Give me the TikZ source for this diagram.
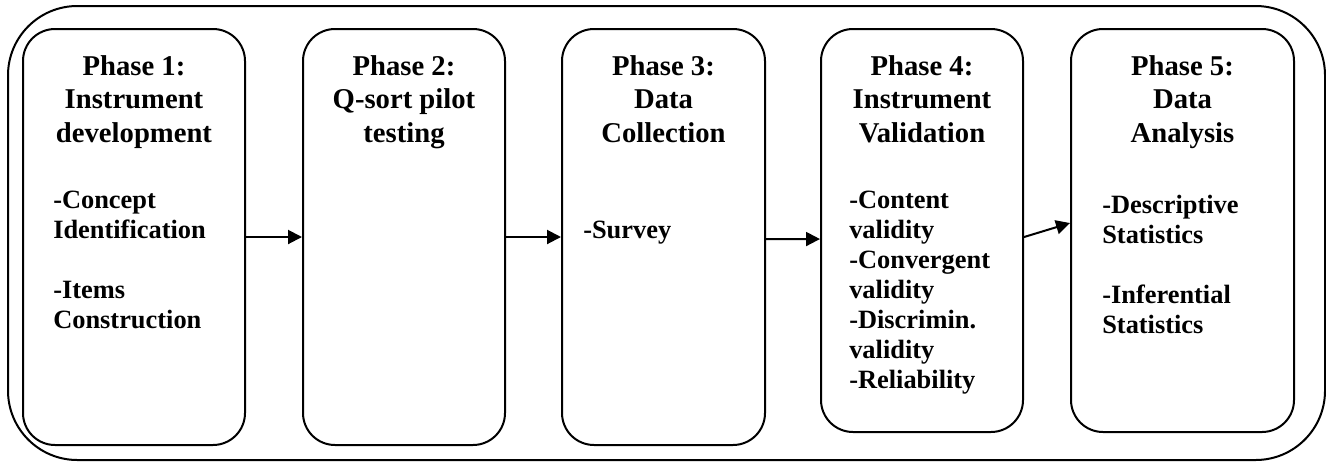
\documentclass[tikz,border=0pt]{standalone}
\usepackage{fontspec}
\setmainfont{Liberation Serif}
\usetikzlibrary{arrows.meta}
\begin{document}
\begin{tikzpicture}[x=0.75pt,y=-0.75pt,
  phasebox/.style={draw,line width=1.5pt,rounded corners=24pt,inner sep=0pt},
  titletext/.style={font=\bfseries\fontsize{21.5pt}{25pt}\selectfont,align=center,inner sep=0pt,anchor=base},
  bodytext/.style={font=\bfseries\fontsize{19.8pt}{22.5pt}\selectfont,align=left,inner sep=0pt,anchor=base west},
  arr/.style={line width=1.5pt,-{Triangle[length=10.5pt,width=10.5pt]}}]
\useasboundingbox (0,0) rectangle (1326,461);
\draw[line width=1.5pt,rounded corners=52pt] (8,6) rectangle (1325,460);
\node[phasebox,minimum width=222*0.75pt,minimum height=416*0.75pt] (b1) at (134,237) {};
\node[phasebox,minimum width=202*0.75pt,minimum height=416*0.75pt] (b2) at (404,237) {};
\node[phasebox,minimum width=203*0.75pt,minimum height=416*0.75pt] (b3) at (663.5,237) {};
\node[phasebox,minimum width=202*0.75pt,minimum height=403*0.75pt] (b4) at (922,230.5) {};
\node[phasebox,minimum width=223*0.75pt,minimum height=403*0.75pt] (b5) at (1182.5,230.5) {};
\node[titletext] (t1) at (134,142) {Phase 1:\\Instrument\\development};
\node[titletext] (t2) at (404,142) {Phase 2:\\Q-sort pilot\\testing};
\node[titletext] (t3) at (663.5,142) {Phase 3:\\Data\\Collection};
\node[titletext] (t4) at (922,142) {Phase 4:\\Instrument\\Validation};
\node[titletext] (t5) at (1182.5,142) {Phase 5:\\Data\\Analysis};
\node[bodytext] (d1) at (53,328) {-Concept\\Identification\\[22.5pt]-Items\\Construction};
\node[bodytext] (d3) at (583,238) {-Survey};
\node[bodytext] (d4) at (849,388) {-Content\\validity\\-Convergent\\validity\\-Discrimin.\\validity\\-Reliability};
\node[bodytext] (d5) at (1102,333) {-Descriptive\\Statistics\\[22.5pt]-Inferential\\Statistics};
\draw[arr] (b1.east) -- (b2.west);
\draw[arr] (b2.east) -- (b3.west);
\draw[arr] ([yshift=-1.5pt]b3.east) -- ([yshift=-6.4pt]b4.west);
\draw[arr] ([yshift=-4.9pt]b4.east) -- ([yshift=5.6pt]b5.west);
\end{tikzpicture}
\end{document}
